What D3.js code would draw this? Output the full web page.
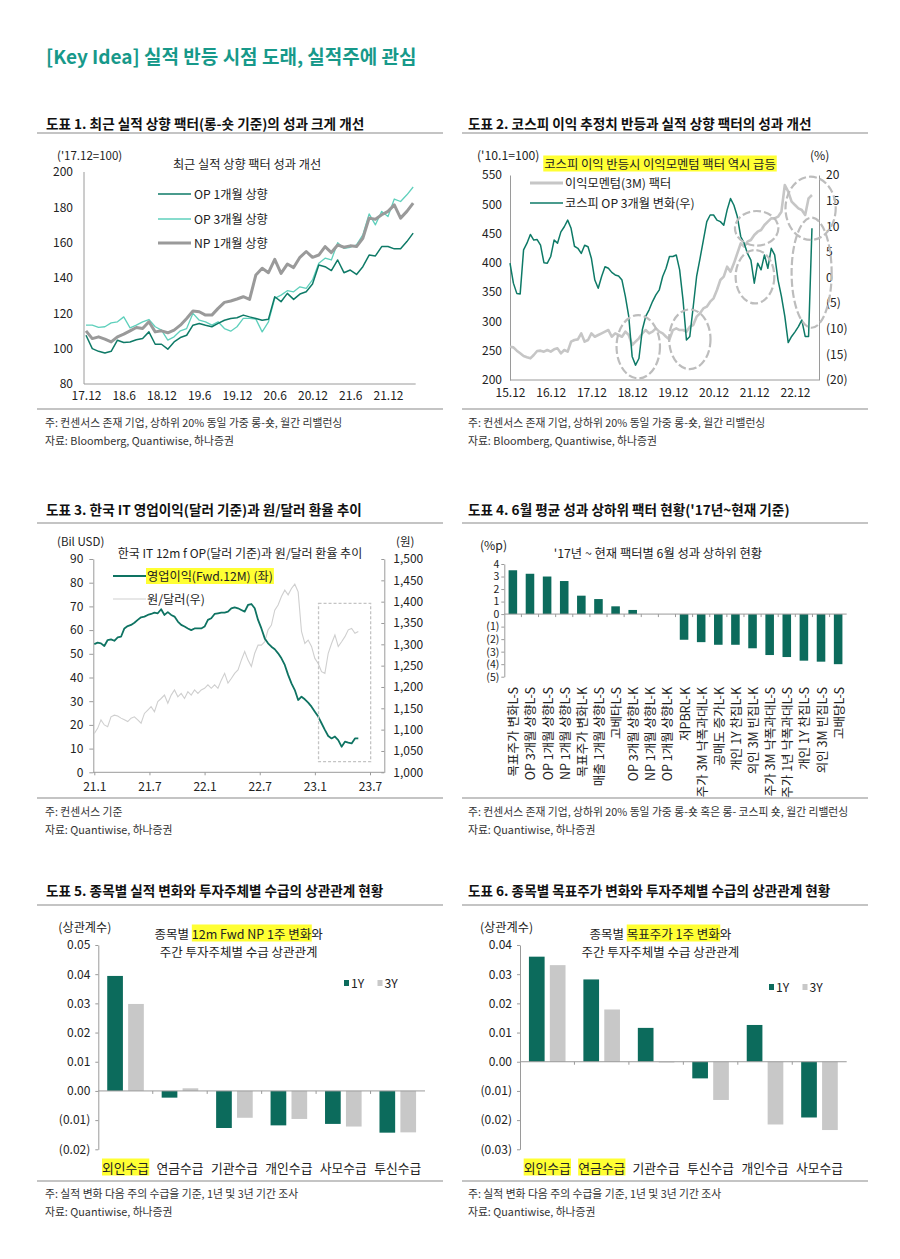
<!DOCTYPE html>
<html><head><meta charset="utf-8">
<script src="https://cdn.jsdelivr.net/npm/d3@7"></script>
<style>
body{margin:0;background:#fff;}
svg{font-family:"Noto Sans CJK KR","Noto Sans",sans-serif;}
</style></head><body>
<svg id="c" width="900" height="1259"></svg>
<script>
// ---------------- DATA ----------------
// Chart 1 (monthly, 17.12 ~ 22.4)
const c1Ticks = ["17.12","18.6","18.12","19.6","19.12","20.6","20.12","21.6","21.12"];
const c1OP1 = [107.6,100,98.5,97.5,98.5,104.8,103.5,103.8,105,105.7,109.5,102.5,102.5,99.7,103.8,106.3,107.6,113.3,114.3,113.3,112.4,114.3,116.1,117.1,117.5,119,118,117.1,116.1,116.7,129.4,126.6,131.3,127.9,130.9,132.2,136.6,147.4,146.4,144.2,150.2,143,144.5,142,146.4,153,152.5,157.8,157.8,156.5,156.5,160.6,165.4];
const c1OP3 = [113.3,113.3,112,112.4,114.6,115.2,118,111.8,113.3,115.2,116.5,112.4,110.5,104.8,106.7,110.1,111.4,120,116.1,115.2,113.3,115.2,111.4,109.9,112.4,117.1,117.1,116.7,109.5,115.2,128.5,130.3,132.8,132.2,135,134.1,138.9,148.3,151.2,150.2,160,156.8,157.4,158.7,164.4,176.3,170.1,177.7,174.8,184.7,183.3,187.1,191.5];
const c1NP = [110.1,105.7,106.7,105.4,103.8,106.7,108.2,110.1,112,111.4,115.2,109.5,110.1,109,110.5,113.3,117.1,121.3,120.9,119,119,122.8,126.2,127,128.1,129.4,127.9,141.7,145.5,143,150.6,142.6,147.9,145.9,151.7,155,151.7,153,157.8,154.4,158.7,157.4,158.2,157.8,162.5,173.9,173.3,175.8,177.7,181.4,173.9,177.7,182.4];
const c1Series = ["OP 1개월 상향","OP 3개월 상향","NP 1개월 상향"];

// Chart 2 (monthly, 15.12 ~ 23.5)
const c2Ticks = ["15.12","16.12","17.12","18.12","19.12","20.12","21.12","22.12"];
const c2Momentum = [256.9,255.7,250.1,245.5,240.9,238.7,237.0,242.7,249.5,250.1,248.4,251.2,248.4,252.3,254.0,245.5,251.2,248.4,265.4,268.3,269.4,279.6,265.4,268.3,279.6,273.9,276.8,279.6,282.5,285.3,273.9,279.6,276.8,273.9,282.5,276.8,259.7,265.4,271.1,279.6,285.3,279.6,282.5,288.2,282.5,279.6,273.9,269.4,285.3,288.2,285.3,285.3,282.5,291.0,293.9,308.1,313.8,322.3,325.2,333.7,339.4,353.6,370.7,376.4,393.5,384.9,399.2,416.3,433.3,427.6,436.2,439.0,447.6,453.2,456.1,464.6,470.3,476.0,476.0,478.9,487.4,532.9,521.5,504.5,498.8,493.1,490.2,481.7,510.2,515.9];
const c2KospiOP = [2.8,-1.1,-3.1,-3.2,5.4,6.7,8.4,7.3,7.4,6.3,2.9,2.8,4.1,7.3,6.7,8.9,9.9,11.2,9.6,6.1,5.7,4.7,6.3,6.0,3.7,-0.5,-2.1,0.2,2.1,1.8,1.0,0.5,0.3,-0.5,-3.7,-7.6,-15.4,-17.1,-15.8,-10.2,-7.6,-6.3,-4.7,-3.4,-2.4,0.2,1.8,4.1,4.1,4.4,1.5,-4.4,-12.2,-11.5,-5.7,0.2,3.7,7.3,10.9,12.2,12.2,11.2,10.9,10.2,13.2,15.4,14.1,11.9,8.0,6.7,4.7,3.4,-1.1,2.8,1.5,4.4,1.8,5.7,4.4,-0.5,-3.7,-7.6,-12.7,-11.5,-10.6,-9.6,-8.3,-11.5,-11.5,9.6];
const c2Series = ["이익모멘텀(3M) 팩터","코스피 OP 3개월 변화(우)"];
// dashed ellipse annotations: [month index, left-axis value, month radius, value radius]
const c2Circles = [[37.8,256.8,6.4,54],[53.0,269.5,6.1,51],[72.7,459,6.4,29.5],[72.2,376.4,5.7,45.6],[88.6,493.1,7.4,54],[88.9,383.2,5.9,94]];

// Chart 3 (~11-day samples, 21.1 ~ 23.5)
const c3Ticks = ["21.1","21.7","22.1","22.7","23.1","23.7"];
const c3OP = [54.1,54.7,54.4,53.3,55.8,56.1,55.5,56.9,57.2,60.7,61.7,62.2,63.1,64.3,65.4,65.7,66.4,66.8,67.4,67.1,68.8,66.4,67.6,66.4,65.7,63.6,62.2,61.5,60.7,60.0,60.7,60.7,60.7,61.5,64.3,65.0,66.8,67.1,67.4,67.4,67.8,69.2,69.6,69.2,68.5,67.8,70.6,71.0,69.2,64.3,60.7,56.5,54.4,53.0,51.9,50.2,48.1,45.3,41.1,37.5,34.7,30.5,31.9,30.8,29.4,27.7,25.6,23.5,20.7,17.9,15.3,14.3,15.1,13.6,10.8,12.9,12.5,12.2,14.3,14.3];
const c3FX = [1091,1103,1123,1111,1107,1130,1134,1132,1127,1123,1119,1127,1130,1123,1115,1138,1146,1154,1142,1166,1173,1181,1162,1181,1193,1177,1185,1173,1189,1181,1193,1185,1193,1197,1205,1197,1205,1197,1216,1232,1209,1220,1232,1240,1263,1283,1263,1248,1279,1298,1298,1306,1334,1345,1380,1392,1412,1427,1416,1431,1441,1423,1330,1302,1310,1295,1267,1255,1236,1232,1279,1302,1322,1295,1306,1318,1334,1337,1326,1330];
const c3Series = ["영업이익(Fwd.12M) (좌)","원/달러(우)"];
const c3Box = [24.4,30.07,4.5,71.3]; // months from 21.1 and left-axis values

// Chart 4
const c4Cats = ["목표주가 변화L-S","OP 3개월 상향L-S","OP 1개월 상향L-S","NP 1개월 상향L-S","목표주가 변화L-K","매출 1개월 상향L-S","고베타L-S","OP 3개월 상향L-K","NP 1개월 상향L-K","OP 1개월 상향L-K","저PBRL-K","주가 3M 낙폭과대L-K","공매도 증가L-K","개인 1Y 찬집L-K","외인 3M 빈집L-K","주가 3M 낙폭과대L-S","주가 1년 낙폭과대L-S","개인 1Y 찬집L-S","외인 3M 빈집L-S","고배당L-S"];
const c4Vals = [3.5,3.22,3.0,2.64,1.47,1.2,0.62,0.33,0,0,-2.05,-2.24,-2.45,-2.45,-2.73,-3.27,-3.43,-3.72,-3.8,-4.0];

// Chart 5
const c5Cats = ["외인수급","연금수급","기관수급","개인수급","사모수급","투신수급"];
const c5Y1 = [0.0394,-0.0023,-0.0127,-0.0118,-0.0113,-0.0143];
const c5Y3 = [0.0298,0.0009,-0.0092,-0.0096,-0.0122,-0.0142];
// Chart 6
const c6Cats = ["외인수급","연금수급","기관수급","투신수급","개인수급","사모수급"];
const c6Y1 = [0.036,0.0282,0.0116,-0.0057,0.0126,-0.0191];
const c6Y3 = [0.0331,0.0179,-0.0002,-0.0131,-0.0215,-0.0234];
const barSeries = ["1Y","3Y"];

// ---------------- HELPERS ----------------
const FONT = '"Noto Sans CJK KR","Noto Sans",sans-serif';
const TEAL = "#0e7a67", TEAL_BAR = "#0c6b5c", GRAYBAR = "#c8c8c8";
const svg = d3.select("#c");
svg.append("rect").attr("width",900).attr("height",1259).attr("fill","#fff");

function T(x,y,s,o={}){
  return svg.append("text").attr("x",x).attr("y",y)
    .attr("font-size",o.size||12).attr("font-weight",o.weight||"normal")
    .attr("fill",o.fill||"#222").attr("text-anchor",o.anchor||"start")
    .attr("dominant-baseline","central").style("white-space","pre").text(s);
}
function HL(sel,pad=1){
  const n = sel.node(), b = n.getBBox();
  d3.select(n.parentNode).insert("rect",()=>n)
    .attr("x",b.x-pad).attr("y",b.y+1).attr("width",b.width+2*pad).attr("height",b.height-2)
    .attr("fill","#ffff33");
}
function mixed(cx,y,parts,size){
  const nodes = parts.map(p=>T(0,y,p[0],{size}));
  const ws = nodes.map(n=>n.node().getComputedTextLength());
  let x = cx - d3.sum(ws)/2;
  nodes.forEach((n,i)=>{ n.attr("x",x); if(parts[i][1]) HL(n,0); x+=ws[i]; });
}
function rule(x1,x2,y){
  svg.append("line").attr("x1",x1).attr("x2",x2).attr("y1",y).attr("y2",y)
    .attr("stroke","#c4c4c4").attr("stroke-width",2);
}
function styleAxis(g,size=12){
  g.attr("font-family",FONT).attr("font-size",size);
  g.selectAll("text").attr("fill","#222");
  g.selectAll("path.domain").attr("stroke","#9a9a9a");
  g.selectAll(".tick line").attr("stroke","#9a9a9a");
}
function hline(x1,x2,y,c="#9a9a9a"){
  svg.append("line").attr("x1",x1).attr("x2",x2).attr("y1",y).attr("y2",y).attr("stroke",c).attr("stroke-width",1);
}
const paren = v => v<0 ? `(${-v})` : `${v}`;
const paren2 = v => v<0 ? `(${d3.format(".2f")(-v)})` : d3.format(".2f")(v);
const TS = 13.6, NS = 10.8, LS = 12.2;

// ---------------- HEADER ----------------
T(46,55,"[Key Idea] 실적 반등 시점 도래, 실적주에 관심",{size:19,weight:"bold",fill:"#17998a"});

// panel frames & titles
const LX=[37,443], RX=[462,868];
T(46,122.5,"도표 1. 최근 실적 상향 팩터(롱-숏 기준)의 성과 크게 개선",{size:TS,weight:"bold",fill:"#111"});
T(468,122.5,"도표 2. 코스피 이익 추정치 반등과 실적 상향 팩터의 성과 개선",{size:TS,weight:"bold",fill:"#111"});
rule(...LX,133); rule(...RX,133); rule(...LX,409); rule(...RX,409);
T(45,421.5,"주: 컨센서스 존재 기업, 상하위 20% 동일 가중 롱-숏, 월간 리밸런싱",{size:NS,fill:"#333"});
T(45,439.5,"자료: Bloomberg, Quantiwise, 하나증권",{size:NS,fill:"#333"});
T(468,421.5,"주: 컨센서스 존재 기업, 상하위 20% 동일 가중 롱-숏, 월간 리밸런싱",{size:NS,fill:"#333"});
T(468,439.5,"자료: Bloomberg, Quantiwise, 하나증권",{size:NS,fill:"#333"});

T(46,509,"도표 3. 한국 IT 영업이익(달러 기준)과 원/달러 환율 추이",{size:TS,weight:"bold",fill:"#111"});
T(468,509,"도표 4. 6월 평균 성과 상하위 팩터 현황('17년~현재 기준)",{size:TS,weight:"bold",fill:"#111"});
rule(...LX,523); rule(...RX,523); rule(...LX,798); rule(...RX,798);
T(45,810.5,"주: 컨센서스 기준",{size:NS,fill:"#333"});
T(45,828.5,"자료: Quantiwise, 하나증권",{size:NS,fill:"#333"});
T(468,810.5,"주: 컨센서스 존재 기업, 상하위 20% 동일 가중 롱-숏 혹은 롱- 코스피 숏, 월간 리밸런싱",{size:NS,fill:"#333"});
T(468,828.5,"자료: Quantiwise, 하나증권",{size:NS,fill:"#333"});

T(46,890,"도표 5. 종목별 실적 변화와 투자주체별 수급의 상관관계 현황",{size:TS,weight:"bold",fill:"#111"});
T(468,890,"도표 6. 종목별 목표주가 변화와 투자주체별 수급의 상관관계 현황",{size:TS,weight:"bold",fill:"#111"});
rule(...LX,905); rule(...RX,905); rule(...LX,1181); rule(...RX,1181);
T(45,1193,"주: 실적 변화 다음 주의 수급을 기준, 1년 및 3년 기간 조사",{size:NS,fill:"#333"});
T(45,1211,"자료: Quantiwise, 하나증권",{size:NS,fill:"#333"});
T(468,1193,"주: 실적 변화 다음 주의 수급을 기준, 1년 및 3년 기간 조사",{size:NS,fill:"#333"});
T(468,1211,"자료: Quantiwise, 하나증권",{size:NS,fill:"#333"});

// ---------------- CHART 1 ----------------
{
  const x = d3.scaleLinear([0,48],[86,388]);
  const y = d3.scaleLinear([80,200],[384,172]);
  const gy = svg.append("g").attr("transform","translate(84,0)")
    .call(d3.axisLeft(y).tickValues(d3.range(80,201,20)).tickSize(0).tickPadding(11));
  styleAxis(gy);
  gy.select("path.domain").attr("d",`M0,${y(200)}V${y(80)}`);
  const gx = svg.append("g").attr("transform","translate(0,384)")
    .call(d3.axisBottom(x).tickValues(d3.range(0,49,6)).tickFormat((d,i)=>c1Ticks[i]).tickSize(0).tickPadding(7));
  styleAxis(gx);
  gx.select("path.domain").remove();
  hline(84,x(52.4),384);
  const line = d3.line().x((d,i)=>x(i)).y(d=>y(d));
  const cols = [TEAL,"#5fd0bc","#9a9a9a"], widths=[1.5,1.3,3];
  [c1OP3,c1OP1,c1NP].forEach((s,k)=>{
    const idx = [1,0,2][k];
    svg.append("path").attr("d",line(s)).attr("fill","none").attr("stroke",cols[idx]).attr("stroke-width",widths[idx]).attr("stroke-linejoin","round");
  });
  T(57,155,"('17.12=100)",{size:11.5});
  T(247,164,"최근 실적 상향 팩터 성과 개선",{size:LS,anchor:"middle"});
  c1Series.forEach((s,i)=>{
    const yy = [194,219,243][i];
    svg.append("line").attr("x1",158).attr("x2",191).attr("y1",yy).attr("y2",yy).attr("stroke",cols[i]).attr("stroke-width",widths[i]);
    T(194,yy,s,{size:LS});
  });
}

// ---------------- CHART 2 ----------------
{
  const x = d3.scaleLinear([0,84],[510,795]);
  const yL = d3.scaleLinear([200,550],[380,175]);
  const yR = d3.scaleLinear([-20,20],[380,175]);
  const gl = svg.append("g").attr("transform","translate(510,0)")
    .call(d3.axisLeft(yL).tickValues(d3.range(200,551,50)).tickSize(0).tickPadding(8));
  styleAxis(gl);
  const gr = svg.append("g").attr("transform","translate(819,0)")
    .call(d3.axisRight(yR).tickValues(d3.range(-20,21,5)).tickFormat(paren).tickSize(0).tickPadding(7));
  styleAxis(gr);
  const gx = svg.append("g").attr("transform","translate(0,380)")
    .call(d3.axisBottom(x).tickValues(d3.range(0,85,12)).tickFormat((d,i)=>c2Ticks[i]).tickSize(0).tickPadding(8));
  styleAxis(gx);
  gx.select("path.domain").remove();
  hline(510,819,380);
  svg.append("path").attr("d",d3.line().x((d,i)=>x(i)).y(d=>yL(d))(c2Momentum))
    .attr("fill","none").attr("stroke","#c6c6c6").attr("stroke-width",2.6).attr("stroke-linejoin","round");
  svg.append("path").attr("d",d3.line().x((d,i)=>x(i)).y(d=>yR(d))(c2KospiOP))
    .attr("fill","none").attr("stroke",TEAL).attr("stroke-width",1.5).attr("stroke-linejoin","round");
  c2Circles.forEach(c=>{
    svg.append("ellipse").attr("cx",x(c[0])).attr("cy",yL(c[1]))
      .attr("rx",x(c[2])-x(0)).attr("ry",yL(200)-yL(200+c[3]))
      .attr("fill","none").attr("stroke","#bdbdbd").attr("stroke-width",2.2).attr("stroke-dasharray","8,3");
  });
  T(477,155,"('10.1=100)",{size:LS});
  T(810,155,"(%)",{size:LS});
  const t = T(660,163.5,"코스피 이익 반등시 이익모멘텀 팩터 역시 급등",{size:12.3,anchor:"middle"});
  HL(t,1);
  svg.append("line").attr("x1",530).attr("x2",563).attr("y1",183).attr("y2",183).attr("stroke","#c6c6c6").attr("stroke-width",3);
  T(565,183,c2Series[0],{size:LS});
  svg.append("line").attr("x1",530).attr("x2",563).attr("y1",203).attr("y2",203).attr("stroke",TEAL).attr("stroke-width",1.5);
  T(565,203,c2Series[1],{size:LS});
}

// ---------------- CHART 3 ----------------
{
  const x = d3.scaleLinear([0,30],[94.3,370]);
  const yL = d3.scaleLinear([0,90],[772.3,559]);
  const yR = d3.scaleLinear([1000,1500],[772.3,559]);
  const step = 10/27.5; // sample spacing in months (~11 days)
  const gl = svg.append("g").attr("transform","translate(93.3,0)")
    .call(d3.axisLeft(yL).tickValues(d3.range(0,91,10)).tickSizeInner(4).tickSizeOuter(0).tickPadding(6));
  styleAxis(gl);
  const gr = svg.append("g").attr("transform","translate(384.3,0)")
    .call(d3.axisRight(yR).tickValues(d3.range(1000,1501,50)).tickFormat(d3.format(",")).tickSizeInner(-3).tickSizeOuter(0).tickPadding(9));
  styleAxis(gr);
  const gx = svg.append("g").attr("transform","translate(0,772.3)")
    .call(d3.axisBottom(x).tickValues(d3.range(0,31,6)).tickFormat((d,i)=>c3Ticks[i]).tickSizeInner(3).tickSizeOuter(0).tickPadding(7));
  styleAxis(gx);
  gx.select("path.domain").remove();
  hline(93.3,384.3,772.3);
  svg.append("path").attr("d",d3.line().x((d,i)=>x(i*step)).y(d=>yR(d))(c3FX))
    .attr("fill","none").attr("stroke","#cfcfcf").attr("stroke-width",1.1);
  svg.append("path").attr("d",d3.line().x((d,i)=>x(i*step)).y(d=>yL(d))(c3OP))
    .attr("fill","none").attr("stroke","#0e7362").attr("stroke-width",1.8).attr("stroke-linejoin","round");
  svg.append("rect").attr("x",x(c3Box[0])).attr("y",yL(c3Box[3]))
    .attr("width",x(c3Box[1])-x(c3Box[0])).attr("height",yL(c3Box[2])-yL(c3Box[3]))
    .attr("fill","none").attr("stroke","#c4c4c4").attr("stroke-width",1.3).attr("stroke-dasharray","3,2");
  T(57,541,"(Bil USD)",{size:11.5});
  T(396,541,"(원)",{size:11.5});
  T(240,552,"한국 IT 12m f OP(달러 기준)과 원/달러 환율 추이",{size:12,anchor:"middle"});
  svg.append("line").attr("x1",113).attr("x2",146).attr("y1",576).attr("y2",576).attr("stroke","#0e7362").attr("stroke-width",2);
  HL(T(147,576,c3Series[0],{size:LS}),1);
  svg.append("line").attr("x1",113).attr("x2",146).attr("y1",599).attr("y2",599).attr("stroke","#cfcfcf").attr("stroke-width",1.2);
  T(147,599,c3Series[1],{size:LS});
}

// ---------------- CHART 4 ----------------
{
  const x = d3.scaleBand(c4Cats,[504.3,846.7]).paddingInner(0.5).paddingOuter(0.25);
  const y = d3.scaleLinear([-5,4],[676.7,564]);
  const gy = svg.append("g").attr("transform","translate(504.3,0)")
    .call(d3.axisLeft(y).tickValues(d3.range(-5,5,1)).tickFormat(paren).tickSizeInner(3).tickSizeOuter(0).tickPadding(2));
  styleAxis(gy,10.5);
  svg.selectAll(".b4").data(c4Vals).join("rect").attr("class","b4")
    .attr("x",(d,i)=>x(c4Cats[i])).attr("width",x.bandwidth())
    .attr("y",d=>y(Math.max(0,d))).attr("height",d=>Math.abs(y(d)-y(0)))
    .attr("fill",TEAL_BAR);
  hline(504.3,846.7,y(0));
  c4Cats.forEach((c,i)=>{
    if(i>0){ const bx = x(c)-x.step()*x.paddingInner()/2; svg.append("line").attr("x1",bx).attr("x2",bx).attr("y1",y(0)).attr("y2",y(0)+3).attr("stroke","#9a9a9a"); }
    svg.append("text").attr("transform",`translate(${x(c)+x.bandwidth()/2},687) rotate(-90)`)
      .attr("text-anchor","end").attr("dominant-baseline","central").attr("font-size",12.5).attr("fill","#222").text(c);
  });
  T(480,545,"(%p)",{size:LS});
  T(658,553,"'17년 ~ 현재 팩터별 6월 성과 상하위 현황",{size:12.3,anchor:"middle"});
}

// ---------------- CHARTS 5 & 6 ----------------
function corrChart(cats,v1,v3,x0,x1,dom,titleParts,legX,legY,hlCats){
  const x = d3.scaleBand(cats,[x0,x1]).paddingInner(0.328).paddingOuter(0.164);
  const xs = d3.scaleBand(barSeries,[0,x.bandwidth()]).paddingInner(0.25);
  const y = d3.scaleLinear(dom,[1149.3,945]);
  const gy = svg.append("g").attr("transform",`translate(${x0},0)`)
    .call(d3.axisLeft(y).tickValues(d3.range(Math.round(dom[0]*100),Math.round(dom[1]*100)+1).map(v=>v/100)).tickFormat(paren2).tickSizeInner(3).tickSizeOuter(0).tickPadding(5));
  styleAxis(gy);
  [v1,v3].forEach((vals,k)=>{
    svg.append("g").selectAll("rect").data(vals).join("rect")
      .attr("x",(d,i)=>x(cats[i])+xs(barSeries[k])).attr("width",xs.bandwidth())
      .attr("y",d=>y(Math.max(0,d))).attr("height",d=>Math.max(0.8,Math.abs(y(d)-y(0))))
      .attr("fill",k===0?TEAL_BAR:GRAYBAR);
  });
  hline(x0,x1,y(0));
  cats.forEach((c,i)=>{
    if(i>0){ const bx = x(c)-x.step()*x.paddingInner()/2; svg.append("line").attr("x1",bx).attr("x2",bx).attr("y1",y(0)).attr("y2",y(0)+3).attr("stroke","#9a9a9a"); }
    const t = T(x(c)+x.bandwidth()/2,1167,c,{size:12.8,anchor:"middle"});
    if(hlCats.includes(c)) HL(t,0);
  });
  T(x0-40,927,"(상관계수)",{size:LS});
  mixed(x0+(x1-x0)/2-23,933,titleParts,12.5);
  mixed(x0+(x1-x0)/2-23,951,[["주간 투자주체별 수급 상관관계",false]],12.5);
  barSeries.forEach((s,k)=>{
    svg.append("rect").attr("x",legX+k*33.5).attr("y",legY-3).attr("width",5).attr("height",6).attr("fill",k===0?TEAL_BAR:GRAYBAR);
    T(legX+k*33.5+7,legY,s,{size:LS});
  });
}
corrChart(c5Cats,c5Y1,c5Y3,98.3,425,[-0.02,0.05],[["종목별 ",false],["12m Fwd NP 1주 변화",true],["와",false]],344,983,["외인수급"]);
corrChart(c6Cats,c6Y1,c6Y3,520,846.7,[-0.03,0.04],[["종목별 ",false],["목표주가 1주 변화",true],["와",false]],769,987,["외인수급","연금수급"]);
</script>
</body></html>
